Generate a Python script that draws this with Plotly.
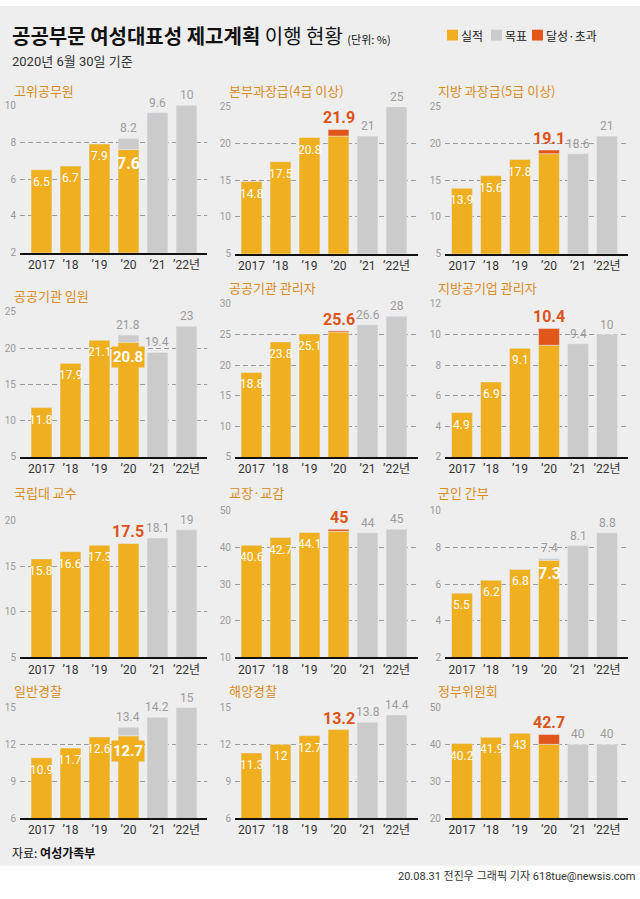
import plotly.graph_objects as go

# ---------------- data ----------------
categories = ["2017", "’18", "’19", "’20", "’21", "’22년"]

titles = ["고위공무원", "본부과장급(4급 이상)", "지방 과장급(5급 이상)",
          "공공기관 임원", "공공기관 관리자", "지방공기업 관리자",
          "국립대 교수", "교장·교감", "군인 간부",
          "일반경찰", "해양경찰", "정부위원회"]

# actual results 2017, '18, '19, '20
actual_senior = [6.5, 6.7, 7.9, 7.6]
actual_hq_mgr = [14.8, 17.5, 20.8, 21.9]
actual_local_mgr = [13.9, 15.6, 17.8, 19.1]
actual_pub_exec = [11.8, 17.9, 21.1, 20.8]
actual_pub_mgr = [18.8, 23.8, 25.1, 25.6]
actual_local_ent = [4.9, 6.9, 9.1, 10.4]
actual_prof = [15.8, 16.6, 17.3, 17.5]
actual_principal = [40.6, 42.7, 44.1, 45]
actual_military = [5.5, 6.2, 6.8, 7.3]
actual_police = [10.9, 11.7, 12.6, 12.7]
actual_coast = [11.3, 12, 12.7, 13.2]
actual_committee = [40.2, 41.9, 43, 42.7]

# targets '20, '21, '22
target_senior = [8.2, 9.6, 10]
target_hq_mgr = [21, 21, 25]
target_local_mgr = [18.6, 18.6, 21]
target_pub_exec = [21.8, 19.4, 23]
target_pub_mgr = [25.4, 26.6, 28]
target_local_ent = [9.3, 9.4, 10]
target_prof = [17.5, 18.1, 19]
target_principal = [44.4, 44, 45]
target_military = [7.4, 8.1, 8.8]
target_police = [13.4, 14.2, 15]
target_coast = [13.2, 13.8, 14.4]
target_committee = [40, 40, 40]

actuals = [actual_senior, actual_hq_mgr, actual_local_mgr, actual_pub_exec,
           actual_pub_mgr, actual_local_ent, actual_prof, actual_principal,
           actual_military, actual_police, actual_coast, actual_committee]
targets = [target_senior, target_hq_mgr, target_local_mgr, target_pub_exec,
           target_pub_mgr, target_local_ent, target_prof, target_principal,
           target_military, target_police, target_coast, target_committee]

# y-axis ranges and tick steps
y_ranges = [(2, 10, 2), (5, 25, 5), (5, 25, 5),
            (5, 25, 5), (5, 30, 5), (2, 12, 2),
            (5, 20, 5), (10, 50, 10), (2, 10, 2),
            (6, 15, 3), (6, 15, 3), (20, 50, 10)]

# ---------------- layout geometry (pixels) ----------------
W, H = 640, 899
col_geo = [(20, 207, -0.741, 5.707), (235, 418, -0.569, 5.741), (445, 628, -0.586, 5.724)]
panel_y = [(100.7, 250), (102, 251), (102, 251),
           (310, 457), (302, 457), (302, 457),
           (521.7, 660), (511.7, 660), (511.7, 660),
           (711, 823), (711, 823), (711, 823)]
title_x = [12, 227, 436]
title_y = [86, 86, 86, 293, 285, 285, 493, 493, 493, 694, 694, 694]

YELLOW = "#EFAF1F"
GREY = "#CBCBCB"
ORANGE = "#E2561A"
ORANGE_TXT = "#DC541C"
TITLE_COL = "#D98C1E"
BG = "#EEEEEE"
NUM_FONT = "Roboto, Noto Sans CJK KR, sans-serif"
KR_FONT = "Noto Sans CJK KR, sans-serif"


def px_x(p):
    return p / W


def px_y(p):
    return 1 - p / H


def fmt(v):
    return "%g" % v


fig = go.Figure()
annotations = []
layout_axes = {}

for i in range(12):
    n = i + 1
    sfx = "" if n == 1 else str(n)
    xa, ya = "x" + sfx, "y" + sfx
    col = i % 3
    x0, x1, rlo, rhi = col_geo[col]
    top, bot = panel_y[i]
    ymin, ymax, dt = y_ranges[i]
    act = actuals[i]
    tgt = targets[i]
    a20, t20 = act[3], tgt[0]

    # yellow: actual results (capped at target for '20)
    yel = act[:3] + [min(a20, t20)]
    fig.add_trace(go.Bar(x=categories[:4], y=yel, marker_color=YELLOW,
                         width=0.72, xaxis=xa, yaxis=ya, showlegend=False,
                         hoverinfo="skip"))
    # grey: targets
    gx, gy, gb = categories[4:], tgt[1:], [0, 0]
    if t20 > a20:
        gx = [categories[3]] + gx
        gy = [round(t20 - a20, 3)] + gy
        gb = [a20] + gb
    fig.add_trace(go.Bar(x=gx, y=gy, base=gb, marker_color=GREY, width=0.72,
                         xaxis=xa, yaxis=ya, showlegend=False, hoverinfo="skip"))
    # orange: exceeded
    if a20 > t20:
        fig.add_trace(go.Bar(x=[categories[3]], y=[round(a20 - t20, 3)], base=[t20],
                             marker_color=ORANGE, width=0.72, xaxis=xa, yaxis=ya,
                             showlegend=False, hoverinfo="skip"))

    # value labels (x given as category index)
    for k in range(3):
        annotations.append(dict(x=k, y=act[k], xref=xa, yref=ya,
                                text=fmt(act[k]), showarrow=False, yanchor="top",
                                yshift=-3, font=dict(family=NUM_FONT, size=12, color="white")))
    for k in range(2):
        annotations.append(dict(x=4 + k, y=tgt[1 + k], xref=xa, yref=ya,
                                text=fmt(tgt[1 + k]), showarrow=False, yanchor="bottom",
                                yshift=1, font=dict(family=NUM_FONT, size=12, color="#9C9C9C")))
    if t20 > a20:
        annotations.append(dict(x=3, y=t20, xref=xa, yref=ya,
                                text=fmt(t20), showarrow=False, yanchor="bottom",
                                yshift=1, font=dict(family=NUM_FONT, size=12, color="#9C9C9C")))
        boxed = len(fmt(a20)) > 3
        annotations.append(dict(x=3, y=a20, xref=xa, yref=ya,
                                text="<b>" + fmt(a20) + "</b>", showarrow=False,
                                yanchor="top", yshift=-4 if boxed else -2,
                                bgcolor=YELLOW if boxed else None, borderpad=1,
                                font=dict(family=NUM_FONT, size=15 if boxed else 16,
                                          color="white")))
    else:
        annotations.append(dict(x=3, y=a20, xref=xa, yref=ya,
                                text="<b>" + fmt(a20) + "</b>", showarrow=False,
                                yanchor="bottom", yshift=0,
                                font=dict(family=NUM_FONT, size=16, color=ORANGE_TXT)))

    # panel title
    annotations.append(dict(x=px_x(title_x[col]), y=px_y(title_y[i]), xref="paper", yref="paper",
                            text=titles[i], showarrow=False, xanchor="left", yanchor="middle",
                            font=dict(family=KR_FONT, size=13, color=TITLE_COL)))

    layout_axes["xaxis" + sfx] = dict(
        domain=[px_x(x0), px_x(x1)], range=[rlo, rhi], anchor=ya,
        type="category", categoryorder="array", categoryarray=categories,
        showgrid=False, zeroline=False, showline=True, linecolor="#111111", linewidth=2,
        ticks="", tickfont=dict(family=NUM_FONT, size=12, color="#333333"),
        fixedrange=True)
    layout_axes["yaxis" + sfx] = dict(
        domain=[px_y(bot), px_y(top)], range=[ymin, ymax], anchor=xa,
        tickvals=list(range(ymin, ymax + 1, dt)), showgrid=True,
        gridcolor="#9A9A9A", griddash="5px,3px", gridwidth=1, zeroline=False,
        showline=False, ticks="", ticklabelstandoff=3,
        tickfont=dict(family=NUM_FONT, size=10, color="#9A9A9A"), fixedrange=True)

# header
annotations.append(dict(x=px_x(10), y=px_y(30), xref="paper", yref="paper", showarrow=False,
                        xanchor="left", yanchor="middle",
                        text="<b>공공부문 여성대표성 제고계획</b> 이행 현황 <span style='font-size:11px'>(단위: %)</span>",
                        font=dict(family=KR_FONT, size=20, color="#111111")))
annotations.append(dict(x=px_x(10), y=px_y(56), xref="paper", yref="paper", showarrow=False,
                        xanchor="left", yanchor="middle", text="2020년 6월 30일 기준",
                        font=dict(family=NUM_FONT, size=13, color="#333333")))
# legend
legend_items = [("실적", YELLOW, 447), ("목표", GREY, 491), ("달성·초과", ORANGE, 532)]
shapes = [dict(type="rect", xref="paper", yref="paper", x0=0, x1=1, y0=px_y(871.5), y1=1,
               fillcolor=BG, line=dict(width=0), layer="below")]
for name, colr, lx in legend_items:
    shapes.append(dict(type="rect", xref="paper", yref="paper", x0=px_x(lx), x1=px_x(lx + 11),
                       y0=px_y(35), y1=px_y(24), fillcolor=colr, line=dict(width=0)))
    annotations.append(dict(x=px_x(lx + 12), y=px_y(29.5), xref="paper", yref="paper",
                            showarrow=False, xanchor="left", yanchor="middle", text=name,
                            font=dict(family=KR_FONT, size=12, color="#222222")))
# footer
annotations.append(dict(x=px_x(10), y=px_y(858), xref="paper", yref="paper", showarrow=False,
                        xanchor="left", yanchor="middle", text="자료: <b>여성가족부</b>",
                        font=dict(family=KR_FONT, size=12, color="#111111")))
annotations.append(dict(x=px_x(637), y=px_y(882), xref="paper", yref="paper", showarrow=False,
                        xanchor="right", yanchor="middle",
                        text="20.08.31 전진우 그래픽 기자 618tue@newsis.com",
                        font=dict(family=NUM_FONT, size=11, color="#333333")))

fig.update_layout(
    width=W, height=H, margin=dict(l=0, r=0, t=0, b=0),
    paper_bgcolor="white", plot_bgcolor="rgba(0,0,0,0)",
    barmode="overlay", showlegend=False,
    annotations=annotations, shapes=shapes, **layout_axes)

fig.write_html("out.html", config={"displayModeBar": False},
               post_script="document.body.style.margin='0';document.body.style.overflow='hidden';")
